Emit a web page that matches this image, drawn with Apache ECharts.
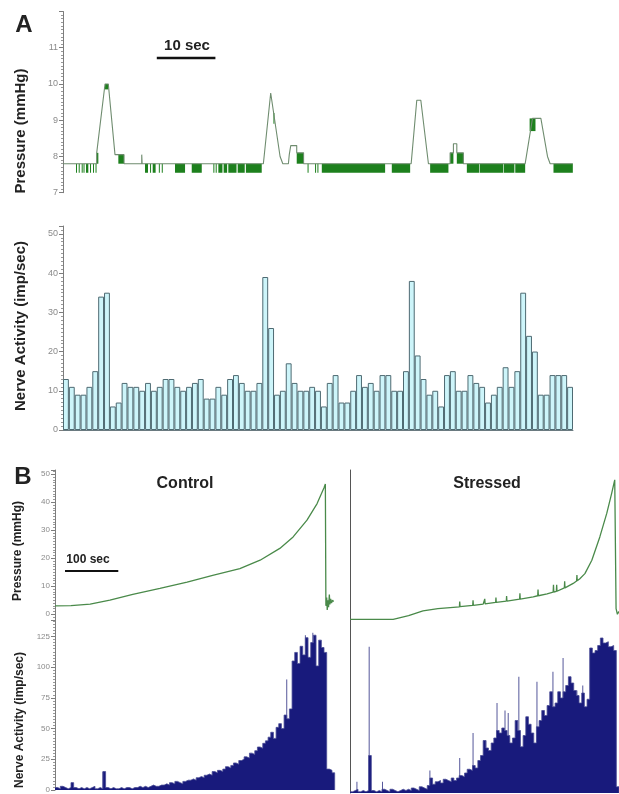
<!DOCTYPE html>
<html><head><meta charset="utf-8">
<script src="https://cdn.jsdelivr.net/npm/echarts@6/dist/echarts.min.js"></script>
<style>html,body{margin:0;padding:0;background:#fff}#c{width:619px;height:794px}</style>
</head><body><div id="c"></div>
<script>
// ---------- Panel A (time in seconds) ----------
// nerve activity, 1-s bins (imp/sec)
const nerveA = [13,11,9,9,11,15,34,35,6,7,12,11,11,10,12,10,11,13,13,11,10,11,12,13,8,8,11,9,13,14,12,10,10,12,39,26,9,10,17,12,10,10,
  11,10,6,12,14,7,7,10,14,11,12,10,14,14,10,10,15,38,19,13,9,10,6,14,15,10,10,14,12,11,7,9,11,16,11,15,35,24,20,9,9,14,14,14,11];
const binLabelsA = nerveA.map((v, i) => String(i + 1));
// pressure trace [t, mmHg]
const pressureA = [[0,7.8],[5.75,7.8],[5.75,8.1],[6.03,8.1],[7.17,10.0],[7.73,10.0],[8.87,8.05],[10.41,8.05],[10.41,7.8],
  [13.43,7.8],[13.43,8.05],[13.5,8.05],[13.5,7.8],[34.18,7.8],[35.43,9.75],[37.03,8.0],[37.5,7.8],[38.45,7.8],[38.6,8.05],
  [38.85,8.3],[39.87,8.3],[39.87,8.1],[41.04,8.1],[41.04,7.8],[59.39,7.8],[60.35,9.55],[61.04,9.55],[62.34,7.8],[66.04,7.8],
  [66.04,8.1],[66.6,8.1],[66.6,8.35],[67.18,8.35],[67.18,8.1],[68.3,8.1],[68.3,7.8],[78.84,7.8],[80.09,9.05],[81.52,9.05],
  [82.65,8.0],[83.1,7.8],[86.97,7.8]];
// flicker blocks of the pressure signal [t0, t1, low, high]
const flickerA = [[5.75,6.03,7.8,8.1],[7.17,7.73,9.85,10.0],[9.44,10.41,7.8,8.05],[35.9,36.0,8.9,9.2],[39.87,41.04,7.8,8.1],
  [66.04,66.6,7.8,8.1],[67.18,68.3,7.8,8.1],[79.6,80.6,8.7,9.05],
  [2.22,2.32,7.55,7.8],[2.68,2.78,7.55,7.8],[3.19,3.29,7.55,7.8],[3.5,3.62,7.55,7.8],[3.92,4.32,7.55,7.8],[4.61,4.71,7.55,7.8],
  [5.12,5.22,7.55,7.8],[5.55,5.65,7.55,7.8],[13.99,14.5,7.55,7.8],[14.85,15.0,7.55,7.8],[15.3,15.8,7.55,7.8],[16.35,16.5,7.55,7.8],
  [16.85,16.95,7.55,7.8],[19.11,20.82,7.55,7.8],[21.96,23.67,7.55,7.8],[25.65,25.8,7.55,7.8],[26.05,26.2,7.55,7.8],
  [26.5,27.2,7.55,7.8],[27.4,28.0,7.55,7.8],[28.2,29.6,7.55,7.8],[29.8,31.0,7.55,7.8],[31.2,33.9,7.55,7.8],
  [41.72,41.82,7.55,7.8],[43.0,43.1,7.55,7.8],[43.4,43.5,7.55,7.8],[44.15,54.95,7.55,7.8],[56.09,59.22,7.55,7.8],
  [62.63,65.75,7.55,7.8],[68.89,71.0,7.55,7.8],[71.1,75.1,7.55,7.8],[75.2,77.0,7.55,7.8],[77.15,78.84,7.55,7.8],[83.67,86.97,7.55,7.8]];
const scaleA = {t0: 16.0, len: 10, level: 10.72};

// ---------- Panel B (time in seconds, 5-s bins for nerve) ----------
const binWidthB = 5;
const ctrlNerve = [2,1,3,2,1,2,6,2,1,2, 1,2,1,2,3,1,2,1,15,2, 1,2,1,1,2,1,2,2,1,2, 2,3,2,3,2,3,4,3,3,4,
  4,5,4,6,5,7,6,5,7,8, 8,9,8,10,11,10,12,13,12,15, 14,16,15,17,19,18,20,22,21,24, 25,27,26,30,29,32,35,34,38,40,
  43,47,42,51,54,50,61,58,66,105, 112,103,117,110,124,108,120,126,101,122, 116,112,17,16,14];
const strNerve = [1,2,3,1,2,1,2,30,2,1, 2,1,3,2,1,3,2,1,2,3, 2,3,2,4,3,2,5,4,3,6, 12,7,9,10,8,11,10,9,12,10,
  12,14,13,16,19,18,22,20,26,30, 42,36,34,40,44,50,48,52,50,46, 40,44,58,50,37,46,61,55,48,40,
  53,58,66,62,70,81,69,72,81,76, 81,86,93,88,82,78,72,80,69,75, 116,112,114,118,124,120,121,117,118,114, 5];
const ctrlSpikes = [[32,6],[90,15],[435,90],[470,126],[484,128]];
const strSpikes = [[13,9],[36,117],[61,9],[150,18],[206,28],[231,48],[255,42],[276,72],[291,66],[297,64],[317,93],
  [351,89],[381,97],[400,108],[413,93],[426,82],[437,86]];
const ctrlPressure = [[0,3],[30,3.1],[66,3.6],[103,5],[146,7.1],[197,9.2],[248,11.5],[296,13.9],[347,16.3],[385,19.3],
  [422,23.5],[447,27.6],[473,33.6],[492,39.5],[505,45.2],[507.5,46.5],[508.5,3],[510,6],[511,1.5],[512.5,5],[513.5,2.5],
  [515,7],[516,3.5],[517.5,5.5],[519,4],[521,5],[523,4.5]];
const strPressure = [[0,-1.8],[81,-1.8],[110,-0.5],[137,1.2],[165,2.0],
  [205.4,2.6],[206,4.5],[206.6,2.7],[230.4,3.2],[231,5],[231.6,3.2],[250,3.6],[252.4,3.7],[253,5.5],[253.6,3.7],
  [273.4,4.2],[274,6],[274.6,4.2],[282,4.4],[293.4,4.7],[294,6.5],[294.6,4.7],[318.4,5.4],[319,7.5],[319.6,5.4],
  [344,6.2],[352.4,6.6],[353,8.8],[353.6,6.6],[370,7.3],[381.4,7.9],[382,10.5],[382.6,7.9],[387.4,8.2],[388,10.5],
  [388.6,8.2],[402.4,9.4],[403,11.8],[403.6,9.4],[419,11],[425.4,11.9],[426,14],[426.6,12],[431,12.6],[441,14.5],
  [454,19.3],[469,27.6],[482,36],[491,43],[497,48],[499.5,2],[502,0],[505,1]];
const scaleB = {t0: 18.8, len: 100, level: 15.4};

const toSteps = (vals, w) => vals.map((v, i) => [i * w, v]).concat([[vals.length * w, 0]]);

const AX = '#7d7d7d', LBL = '#8a8a8a', NAVY = '#181a7c', GREEN = '#4a8a4a';
function yAx(grid, opt) {
  return Object.assign({
    gridIndex: grid, type: 'value',
    axisLine: {show: true, lineStyle: {color: AX, width: 1}},
    axisTick: {show: true, length: 4, lineStyle: {color: AX}},
    minorTick: {show: true, splitNumber: 10, length: 2, lineStyle: {color: '#999'}},
    splitLine: {show: false},
    axisLabel: {color: LBL, fontSize: 9, margin: 5, fontFamily: 'Arial', showMaxLabel: false}
  }, opt);
}
function yBare(grid, opt) {
  return Object.assign({
    gridIndex: grid, type: 'value',
    axisLine: {show: true, lineStyle: {color: '#555', width: 1}},
    axisTick: {show: false}, axisLabel: {show: false}, splitLine: {show: false}
  }, opt);
}
function blockItem(params, api) {
  const p0 = api.coord([api.value(0), api.value(3)]);
  const p1 = api.coord([api.value(1), api.value(2)]);
  return {type: 'rect', shape: {x: p0[0], y: p0[1], width: Math.max(p1[0] - p0[0], 1), height: p1[1] - p0[1]},
    style: {fill: '#1d801d'}};
}
function spikeItem(params, api) {
  const a = api.coord([api.value(0), 0]);
  const b = api.coord([api.value(0), api.value(1)]);
  return {type: 'line', shape: {x1: a[0], y1: a[1], x2: b[0], y2: b[1]}, style: {stroke: '#55579a', lineWidth: 1}};
}
const txt = (x, y, s, size, rot) => ({type: 'text', x: x, y: y, rotation: rot || 0,
  style: {text: s, font: 'bold ' + size + 'px Arial', fill: '#222', textAlign: 'center', textVerticalAlign: 'middle'}});

const chart = echarts.init(document.getElementById('c'));
chart.setOption({
  animation: false,
  backgroundColor: '#fff',
  grid: [
    {left: 63, top: 11.5, width: 510, height: 181.2},
    {left: 63, top: 226, width: 510, height: 204},
    {left: 55, top: 470, width: 293, height: 150.4},
    {left: 350, top: 470, width: 269, height: 150.4},
    {left: 55, top: 620, width: 293, height: 173},
    {left: 350, top: 620, width: 269, height: 173}
  ],
  xAxis: [
    {gridIndex: 0, type: 'value', min: 0, max: 87, show: false},
    {gridIndex: 1, type: 'category', data: binLabelsA, axisLine: {show: true, lineStyle: {color: '#6a7a80'}},
      axisTick: {show: false}, axisLabel: {show: false}},
    {gridIndex: 2, type: 'value', min: 0, max: 550, show: false},
    {gridIndex: 3, type: 'value', min: 0, max: 505, show: false},
    {gridIndex: 4, type: 'value', min: 0, max: 550, show: false},
    {gridIndex: 5, type: 'value', min: 0, max: 505, show: false}
  ],
  yAxis: [
    yAx(0, {min: 7, max: 12, interval: 1}),
    yAx(1, {min: 0, max: 52, interval: 10}),
    yAx(2, {min: -2.2, max: 51.5, minInterval: 10, maxInterval: 10,
      axisLabel: {color: LBL, fontSize: 8, margin: 5, fontFamily: 'Arial', showMaxLabel: false, showMinLabel: false}}),
    yBare(3, {min: -2.2, max: 51.5}),
    yAx(4, {min: 0, max: 138.4, minInterval: 25, maxInterval: 25,
      axisLabel: {color: LBL, fontSize: 8, margin: 5, fontFamily: 'Arial', showMaxLabel: false}}),
    yBare(5, {min: 0, max: 138.4})
  ],
  series: [
    {type: 'custom', xAxisIndex: 0, yAxisIndex: 0, renderItem: blockItem, data: flickerA,
      encode: {x: [0, 1], y: [2, 3]}, z: 2},
    {type: 'line', xAxisIndex: 0, yAxisIndex: 0, data: pressureA, symbol: 'none',
      lineStyle: {color: '#6f8c6f', width: 1.1}, z: 3},
    {type: 'line', xAxisIndex: 0, yAxisIndex: 0, data: [[scaleA.t0, scaleA.level], [scaleA.t0 + scaleA.len, scaleA.level]],
      symbol: 'none', lineStyle: {color: '#111', width: 2.5}},
    {type: 'bar', xAxisIndex: 1, yAxisIndex: 1, data: nerveA, barCategoryGap: '0%',
      itemStyle: {color: '#cdf5fa', borderColor: '#4e6a72', borderWidth: 1}},
    {type: 'line', xAxisIndex: 2, yAxisIndex: 2, data: ctrlPressure, symbol: 'none',
      lineStyle: {color: GREEN, width: 1.3}},
    {type: 'line', xAxisIndex: 2, yAxisIndex: 2, data: [[scaleB.t0, scaleB.level], [scaleB.t0 + scaleB.len, scaleB.level]],
      symbol: 'none', lineStyle: {color: '#111', width: 2}},
    {type: 'line', xAxisIndex: 3, yAxisIndex: 3, data: strPressure, symbol: 'none',
      lineStyle: {color: GREEN, width: 1.3}},
    {type: 'line', xAxisIndex: 4, yAxisIndex: 4, data: toSteps(ctrlNerve, binWidthB), step: 'end', symbol: 'none',
      lineStyle: {color: '#4a4c96', width: 0.8}, areaStyle: {color: NAVY, opacity: 1}},
    {type: 'custom', xAxisIndex: 4, yAxisIndex: 4, renderItem: spikeItem, data: ctrlSpikes, encode: {x: 0, y: 1}},
    {type: 'line', xAxisIndex: 5, yAxisIndex: 5, data: toSteps(strNerve, binWidthB), step: 'end', symbol: 'none',
      lineStyle: {color: '#4a4c96', width: 0.8}, areaStyle: {color: NAVY, opacity: 1}},
    {type: 'custom', xAxisIndex: 5, yAxisIndex: 5, renderItem: spikeItem, data: strSpikes, encode: {x: 0, y: 1}}
  ],
  graphic: [
    txt(24, 25, 'A', 24),
    txt(21, 131, 'Pressure (mmHg)', 15, Math.PI / 2),
    txt(21, 326, 'Nerve Activity (imp/sec)', 15, Math.PI / 2),
    txt(187, 46, '10 sec', 15),
    txt(23, 477, 'B', 24),
    txt(185, 484, 'Control', 16),
    txt(487, 484, 'Stressed', 16),
    txt(18, 551, 'Pressure (mmHg)', 12, Math.PI / 2),
    txt(20, 720, 'Nerve Activity (imp/sec)', 12, Math.PI / 2),
    txt(88, 560, '100 sec', 12)
  ]
});
</script></body></html>
